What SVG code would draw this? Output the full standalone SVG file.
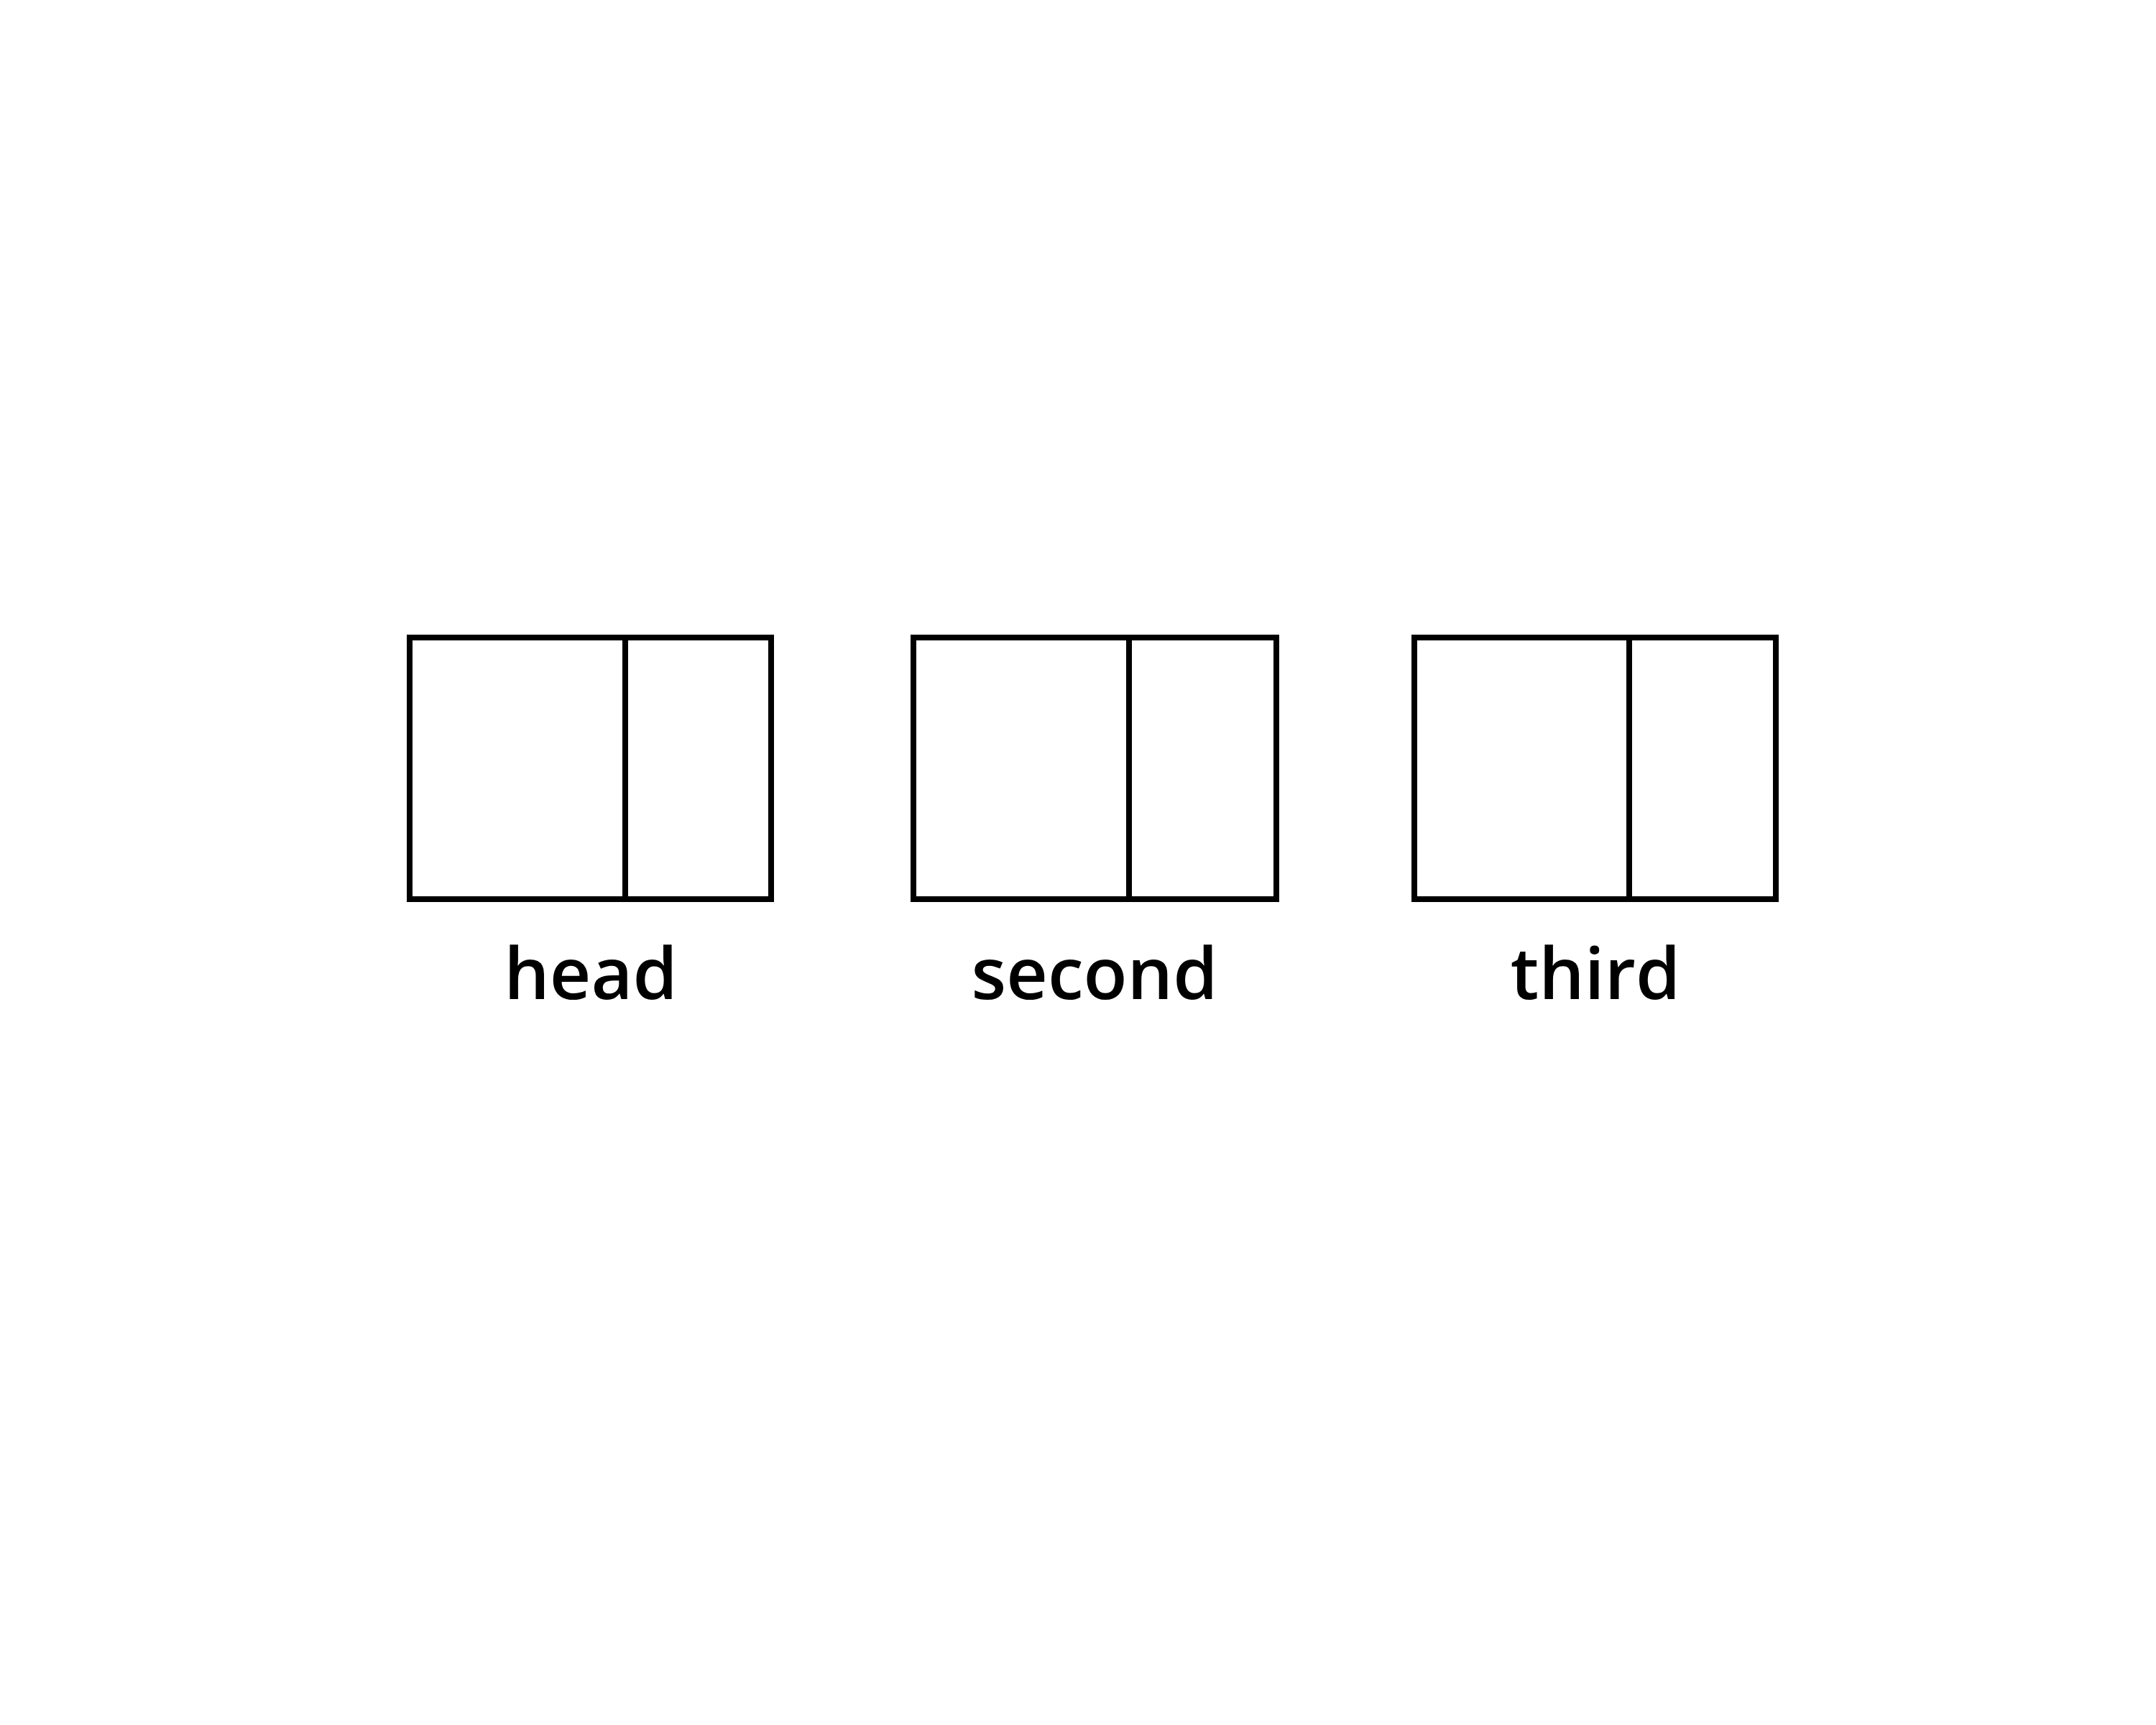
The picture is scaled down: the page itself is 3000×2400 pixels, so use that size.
<svg xmlns="http://www.w3.org/2000/svg" width="3000" height="2400" viewBox="0 0 3000 2400">
<style>
.cell{fill:#ffffff;stroke:#000000;stroke-width:8}
.lbl{font-family:"Open Sans","Noto Sans",sans-serif;font-size:100px;font-weight:600;fill:#000000;text-anchor:middle}
</style>
<rect width="3000" height="2400" fill="#ffffff"/>
<g id="head">
<rect class="cell" x="570" y="887" width="300" height="364"/>
<rect class="cell" x="870" y="887" width="203" height="364"/>
<text class="lbl" x="822" y="1390">head</text>
</g>
<g id="second">
<rect class="cell" x="1271" y="887" width="300" height="364"/>
<rect class="cell" x="1571" y="887" width="205" height="364"/>
<text class="lbl" x="1523" y="1390">second</text>
</g>
<g id="third">
<rect class="cell" x="1968" y="887" width="299" height="364"/>
<rect class="cell" x="2267" y="887" width="204" height="364"/>
<text class="lbl" x="2220" y="1390">third</text>
</g>
<g id="connectors"></g>
</svg>
